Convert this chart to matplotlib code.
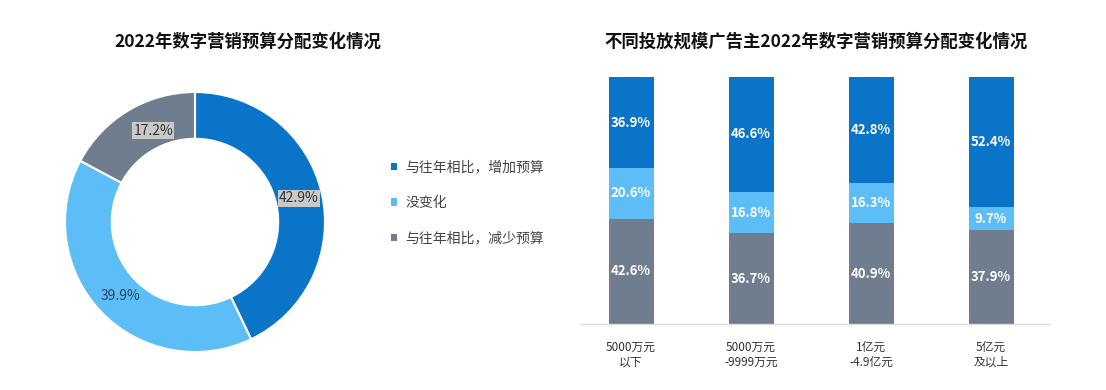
import matplotlib
matplotlib.use("Agg")
import matplotlib.pyplot as plt
from matplotlib.patches import Patch
import numpy as np

plt.rcParams['font.family'] = ['Noto Sans CJK SC', 'DejaVu Sans']

# data
series_names = ["与往年相比，增加预算", "没变化", "与往年相比，减少预算"]
overall = [42.9, 39.9, 17.2]
groups = ["5000万元\n以下", "5000万元\n-9999万元", "1亿元\n-4.9亿元", "5亿元\n及以上"]
increase = [36.9, 46.6, 42.8, 52.4]
same = [20.6, 16.8, 16.3, 9.7]
decrease = [42.6, 36.7, 40.9, 37.9]

c_inc = "#0a74c8"
c_same = "#5cbdf7"
c_dec = "#6f7d8f"
colors = [c_inc, c_same, c_dec]

W, H = 1106, 390
fig = plt.figure(figsize=(W / 100, H / 100), dpi=100)
fig.patch.set_facecolor("white")

def px(x0, y0, x1, y1):
    # pixel box (top-left origin) -> figure fraction
    return [x0 / W, 1 - y1 / H, (x1 - x0) / W, (y1 - y0) / H]

# ---- donut ----
ax1 = fig.add_axes(px(65, 92, 325, 352))
wedges, _ = ax1.pie(overall, colors=colors, startangle=90, counterclock=False,
                    radius=1, wedgeprops=dict(width=0.36, edgecolor="white", linewidth=1.5))
ax1.set_xlim(-1, 1)
ax1.set_ylim(-1, 1)
ax1.axis("off")

cum = np.cumsum([0] + overall[:-1])
label_style = [
    dict(bbox=dict(boxstyle="square,pad=0.1", fc="#c9c9c9", ec="none"), color="#333333"),
    dict(color="#2c4560"),
    dict(bbox=dict(boxstyle="square,pad=0.1", fc="#c9c9c9", ec="none"), color="#333333"),
]
offsets = [(0.0, 0.0), (0.02, 0.0), (0.1, 0.0)]
for v, c0, st, off in zip(overall, cum, label_style, offsets):
    ang = np.deg2rad(90 - (c0 + v / 2) * 3.6)
    r = 0.82
    ax1.text(r * np.cos(ang) + off[0], r * np.sin(ang) + off[1], f"{v}%",
             ha="center", va="center", fontsize=10, **st)

fig.text(248 / W, 1 - 42 / H, "2022年数字营销预算分配变化情况", ha="center", va="center",
         fontsize=12.5, fontweight="bold", color="#111111")

# legend
handles = [Patch(facecolor=c, edgecolor="none") for c in colors]
fig.legend(handles, series_names, loc="upper left", bbox_to_anchor=(378 / W, 1 - 148 / H),
           frameon=False, fontsize=10, labelcolor="#444444", handlelength=0.45,
           handleheight=0.45, handletextpad=0.6, labelspacing=1.55)

# ---- stacked bars ----
ax2 = fig.add_axes(px(580, 77, 1050, 324))
x = np.arange(len(groups))
bw = 0.375
ax2.bar(x, decrease, bw, color=c_dec)
ax2.bar(x, same, bw, bottom=decrease, color=c_same)
bot2 = np.array(decrease) + np.array(same)
ax2.bar(x, increase, bw, bottom=bot2, color=c_inc)

for i in range(len(groups)):
    for val, b in [(decrease[i], 0), (same[i], decrease[i]), (increase[i], bot2[i])]:
        ax2.text(x[i], b + val / 2, f"{val}%", ha="center", va="center",
                 color="white", fontsize=9.5, fontweight="bold")

ax2.set_xlim(-0.425, 3.49)
ax2.set_ylim(0, 100.1)
ax2.set_xticks(x)
ax2.set_xticklabels(groups, fontsize=8.5, color="#333333", linespacing=1.2)
ax2.tick_params(axis="x", length=0, pad=12)
ax2.set_yticks([])
for s in ["top", "right", "left"]:
    ax2.spines[s].set_visible(False)
ax2.spines["bottom"].set_color("#dddddd")
ax2.spines["bottom"].set_linewidth(1)

fig.text(816 / W, 1 - 42 / H, "不同投放规模广告主2022年数字营销预算分配变化情况", ha="center",
         va="center", fontsize=12.5, fontweight="bold", color="#111111")

fig.savefig("out.png", dpi=100, facecolor="white")
